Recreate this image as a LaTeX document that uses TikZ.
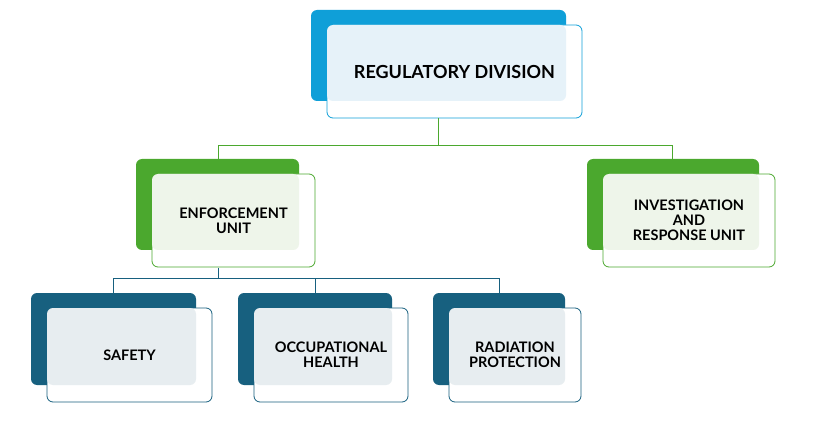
\documentclass[tikz,border=0pt]{standalone}
\usepackage{fontspec}
\setmainfont{Lato}
\definecolor{cb}{HTML}{0F9FD8}\definecolor{lb}{HTML}{E6F2F9}
\definecolor{cg}{HTML}{4BA82E}\definecolor{lg}{HTML}{EEF5EA}
\definecolor{ct}{HTML}{17607F}\definecolor{lt}{HTML}{E7EDF0}
\newcommand{\orgbox}[8]{% name, x1,y1,x2,y2, dark, light, text
  \fill[#6,rounded corners=6pt] (#2,#3) rectangle (#4,#5);
  \draw[#6,line width=0.8pt,fill=white,rounded corners=6pt] (#2+16,#3+15) rectangle (#4+16,#5+17);
  \fill[#7,rounded corners=6pt] (#2+16,#3+15) rectangle (#4,#5);
  \node[txt] (#1) at ({(#2+16+#4+16)/2},{(#3+15+#5+17)/2}) {#8};}
\begin{document}
\begin{tikzpicture}[x=1pt,y=-1pt,txt/.style={font=\bfseries\fontsize{14.5}{15}\selectfont,align=center,text=black},conn/.style={line width=0.8pt}]
\useasboundingbox (0,0) rectangle (831,425);
\fill[white] (0,0) rectangle (831,425);
\orgbox{reg}{311}{10}{566}{101}{cb}{lb}{\fontsize{18}{19}\selectfont REGULATORY DIVISION}
\orgbox{enf}{136}{159}{299}{250}{cg}{lg}{ENFORCEMENT\\UNIT}
\orgbox{inv}{587}{159}{759}{250}{cg}{lg}{INVESTIGATION\\AND\\RESPONSE UNIT}
\orgbox{saf}{31}{293}{196}{385}{ct}{lt}{SAFETY}
\orgbox{occ}{238}{293}{392}{385}{ct}{lt}{OCCUPATIONAL\\HEALTH}
\orgbox{rad}{433}{293}{565}{385}{ct}{lt}{RADIATION\\PROTECTION}
\coordinate (r0) at (438,118);
\coordinate (j1) at (438,145);
\coordinate (e0) at (218,268);
\coordinate (j2) at (218,278);
\draw[cg,conn] (r0) -- (j1);
\draw[cg,conn] (j1) -| (218,159);
\draw[cg,conn] (j1) -| (672,159);
\draw[ct,conn] (e0) -- (j2);
\draw[ct,conn] (j2) -| (113,293);
\draw[ct,conn] (j2) -| (315,293);
\draw[ct,conn] (j2) -| (499,293);
\end{tikzpicture}
\end{document}
